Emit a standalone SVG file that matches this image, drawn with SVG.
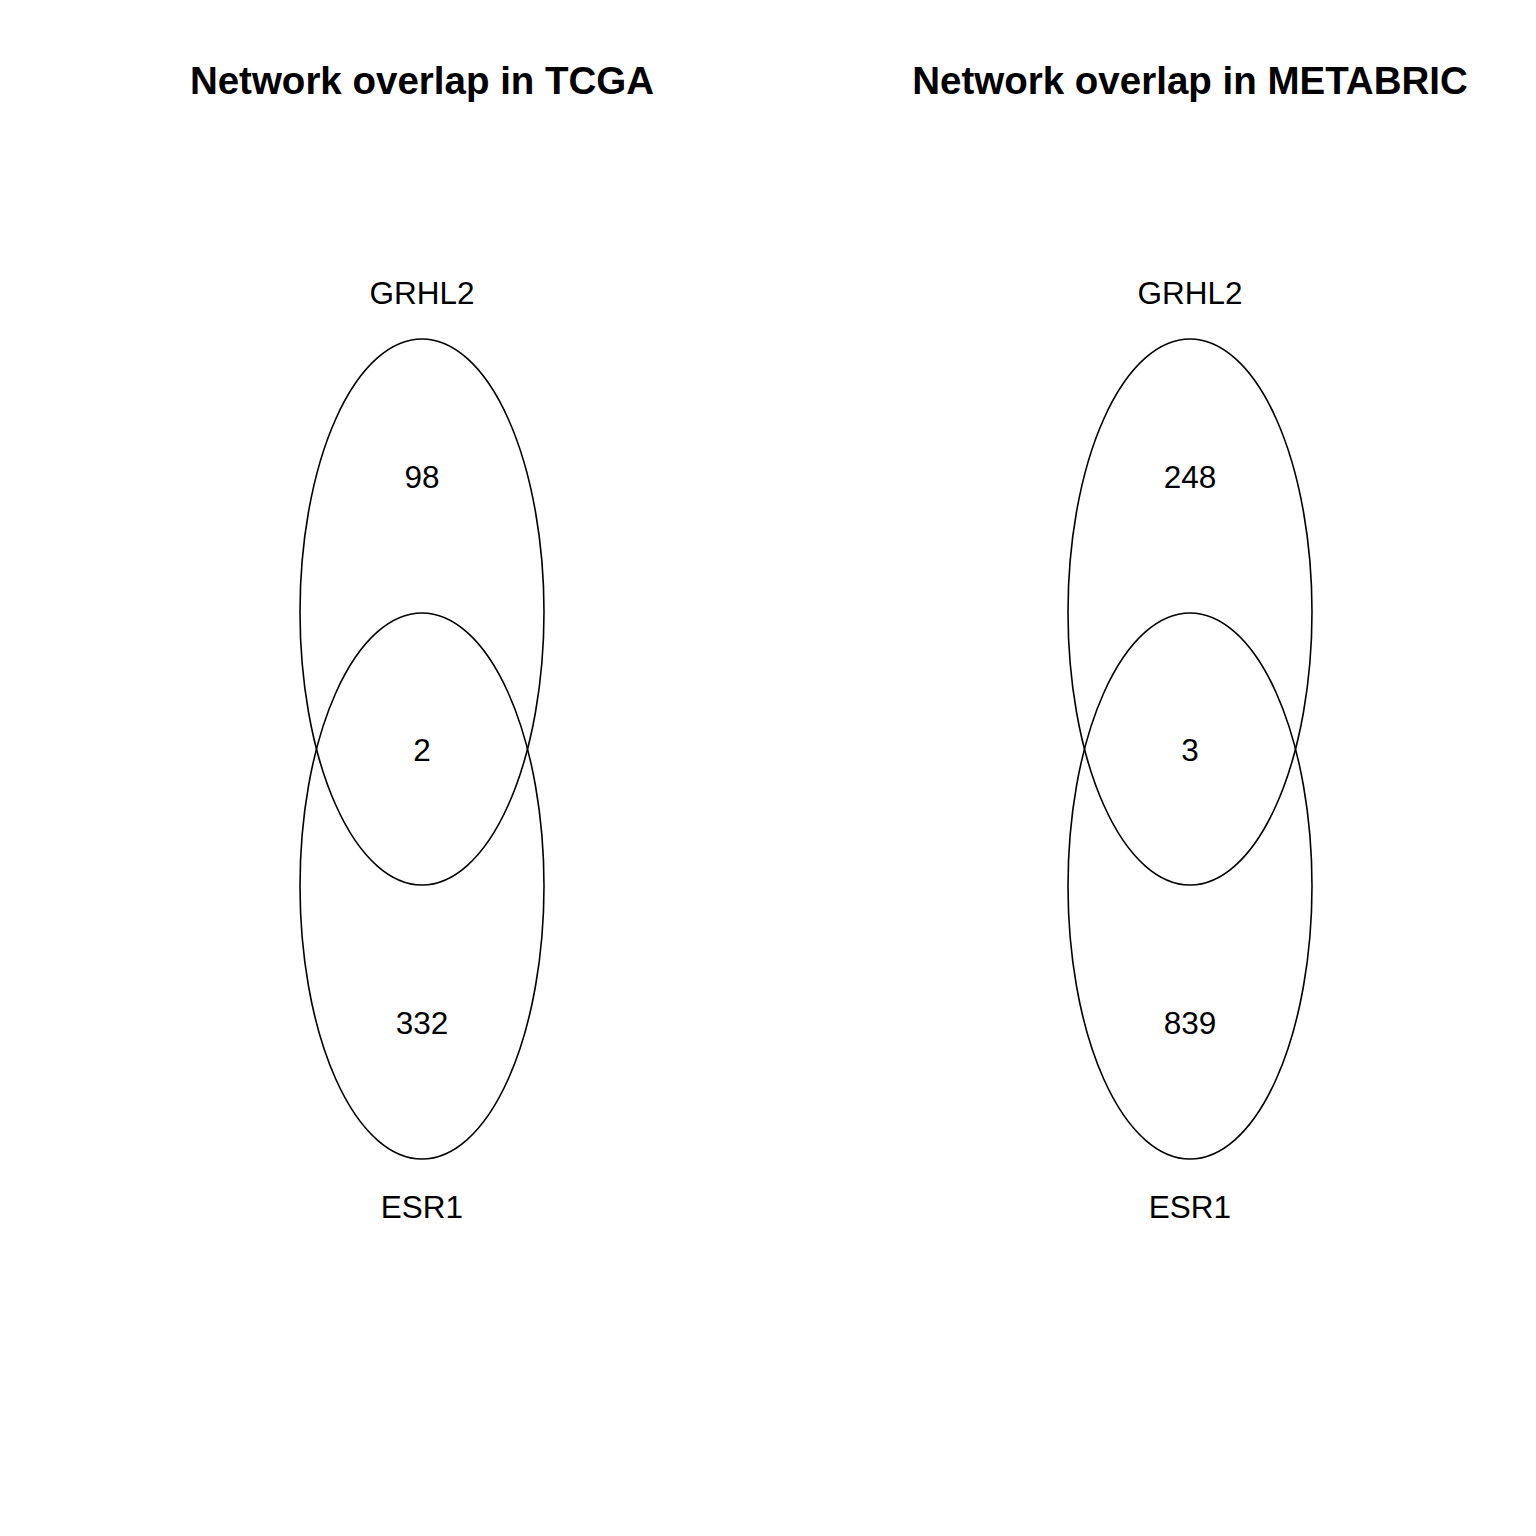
<svg xmlns="http://www.w3.org/2000/svg" width="1536" height="1536" viewBox="0 0 1536 1536">
<style>
.t{font-family:"Liberation Sans",Arial,sans-serif;font-size:38.5px;font-weight:bold;text-anchor:middle;fill:#000}
.l{font-family:"Liberation Sans",Arial,sans-serif;font-size:31.5px;text-anchor:middle;fill:#000}
.e{fill:none;stroke:#000;stroke-width:1.6}
</style>
<rect width="1536" height="1536" fill="#fff"/>
<g id="tcga">
<text class="t" x="422" y="94">Network overlap in TCGA</text>
<g id="tcga-grhl2"><ellipse class="e" cx="422" cy="612" rx="122" ry="273"/><text class="l" x="422" y="304">GRHL2</text><text class="l" x="422" y="488">98</text></g>
<g id="tcga-esr1"><ellipse class="e" cx="422" cy="886" rx="122" ry="273"/><text class="l" x="422" y="1218">ESR1</text><text class="l" x="422" y="1034">332</text></g>
<text class="l" x="422" y="761">2</text>
</g>
<g id="metabric">
<text class="t" x="1190" y="94">Network overlap in METABRIC</text>
<g id="metabric-grhl2"><ellipse class="e" cx="1190" cy="612" rx="122" ry="273"/><text class="l" x="1190" y="304">GRHL2</text><text class="l" x="1190" y="488">248</text></g>
<g id="metabric-esr1"><ellipse class="e" cx="1190" cy="886" rx="122" ry="273"/><text class="l" x="1190" y="1218">ESR1</text><text class="l" x="1190" y="1034">839</text></g>
<text class="l" x="1190" y="761">3</text>
</g>
</svg>
